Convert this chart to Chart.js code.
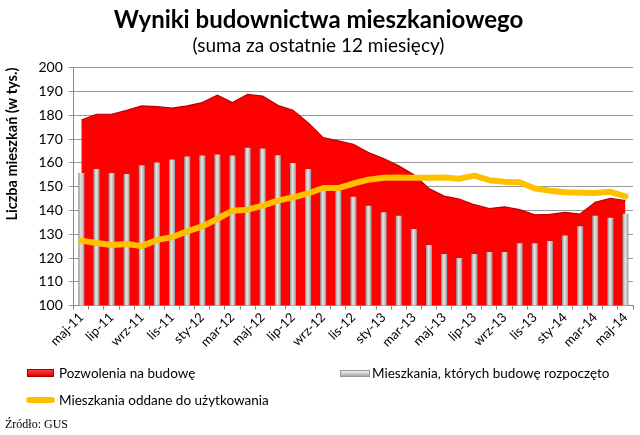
<!DOCTYPE html>
<html>
<head>
<meta charset="utf-8">
<script src="https://cdn.jsdelivr.net/npm/chart.js@4/dist/chart.umd.min.js"></script>
<style>
  body { margin: 0; background: #fff; }
  #wrap { position: relative; width: 640px; height: 435px; font-family: Lato, "Open Sans", sans-serif; }
  #chart { position: absolute; left: 0; top: 0; }
  .sw { position: absolute; }
  .lbl { position: absolute; font-size: 13.5px; color: #000; line-height: 16px; white-space: nowrap; }
  #src { position: absolute; left: 5px; top: 417px; font-family: "Liberation Serif", serif; font-size: 12px; }
</style>
</head>
<body>
<div id="wrap">
  <canvas id="chart" width="640" height="435"></canvas>
  <div class="sw" style="left:27px;top:369px;width:27px;height:8px;background:linear-gradient(#ff4040,#e00000);border:1px solid #a00000;box-sizing:border-box"></div>
  <div class="lbl" style="left:59px;top:365px">Pozwolenia na budowę</div>
  <div class="sw" style="left:340px;top:370px;width:30px;height:7px;background:linear-gradient(#f4f4f4,#a8a8a8);border:1px solid #999;box-sizing:border-box"></div>
  <div class="lbl" style="left:372px;top:365px">Mieszkania, których budowę rozpoczęto</div>
  <div class="sw" style="left:26px;top:397px;width:29px;height:6px;border-radius:3px;background:#ffc000"></div>
  <div class="lbl" style="left:59px;top:392px">Mieszkania oddane do użytkowania</div>
  <div id="src">Źródło: GUS</div>
</div>
<script>
// months maj-11 .. maj-14
var months = ["maj-11","cze-11","lip-11","sie-11","wrz-11","paź-11","lis-11","gru-11",
  "sty-12","lut-12","mar-12","kwi-12","maj-12","cze-12","lip-12","sie-12","wrz-12","paź-12",
  "lis-12","gru-12","sty-13","lut-13","mar-13","kwi-13","maj-13","cze-13","lip-13","sie-13",
  "wrz-13","paź-13","lis-13","gru-13","sty-14","lut-14","mar-14","kwi-14","maj-14"];

// pozwolenia na budowę (tys.)
var permits = [178, 180.4, 180.4, 182, 183.9, 183.6, 183, 183.9, 185.3, 188.4, 185.3, 188.8,
  188, 184.2, 182.1, 176.9, 170.6, 169.2, 167.8, 164.3, 161.8, 158.7, 155, 149.2, 146,
  144.8, 142.4, 140.8, 141.5, 140.3, 138.1, 138.3, 139.2, 138.5, 143.4, 145.1, 144.1];

// mieszkania rozpoczęte (tys.)
var started = [155.7, 157.4, 155.7, 155.3, 159, 160.1, 161.4, 162.7, 163.1, 163.5, 163.1, 166.3,
  166, 163.2, 159.9, 157.4, 150.3, 148.3, 145.7, 142, 139.2, 137.8, 132.2, 125.5, 121.7,
  120, 121.7, 122.5, 122.5, 126.2, 126.2, 127.1, 129.5, 133.3, 137.8, 136.9, 138.6];

// mieszkania oddane (tys.)
var completed = [127.3, 126.3, 125.5, 125.9, 125, 127.6, 128.7, 131.2, 133.3, 136.4, 139.9, 140.3,
  142, 144.1, 145.5, 147.1, 149.4, 149.4, 151.3, 152.9, 153.7, 153.8, 153.7, 153.7, 153.8,
  153.3, 154.6, 152.7, 152, 151.8, 149.2, 148.3, 147.6, 147.4, 147.3, 147.8, 145.9];

var yTicks = [100, 110, 120, 130, 140, 150, 160, 170, 180, 190, 200];

function barFill(c) {
  var chart = c.chart;
  if (!chart.chartArea || c.type !== "data") return "#b4b4b4";
  var x = chart.scales.x.getPixelForValue(c.dataIndex);
  var w = 3;
  var g = chart.ctx.createLinearGradient(x - w, 0, x + w, 0);
  g.addColorStop(0, "#8e8e8e");
  g.addColorStop(0.45, "#e8e8e8");
  g.addColorStop(1, "#999999");
  return g;
}

new Chart(document.getElementById("chart"), {
  type: "bar",
  data: {
    labels: months,
    datasets: [
      {
        type: "line",
        label: "Pozwolenia na budowę",
        data: permits,
        borderColor: "#b80000",
        borderWidth: 1.2,
        backgroundColor: "#ff0000",
        fill: "start",
        pointRadius: 0,
        tension: 0,
        order: 3
      },
      {
        type: "bar",
        label: "Mieszkania, których budowę rozpoczęto",
        data: started,
        backgroundColor: barFill,
        borderWidth: 0,
        categoryPercentage: 1,
        barPercentage: 0.4,
        order: 2
      },
      {
        type: "line",
        label: "Mieszkania oddane do użytkowania",
        data: completed,
        borderColor: "#ffc000",
        borderWidth: 6,
        borderJoinStyle: "round",
        borderCapStyle: "round",
        pointRadius: 0,
        fill: false,
        tension: 0,
        order: 1
      }
    ]
  },
  options: {
    responsive: false,
    animation: false,
    layout: { padding: { left: 4, right: 7, top: 0, bottom: 85 } },
    plugins: {
      legend: { display: false },
      tooltip: { enabled: false },
      title: {
        display: true,
        text: "Wyniki budownictwa mieszkaniowego",
        color: "#000",
        font: { family: "Lato", size: 24, weight: "bold" },
        padding: { top: 6, bottom: 0 }
      },
      subtitle: {
        display: true,
        text: "(suma za ostatnie 12 miesięcy)",
        color: "#000",
        font: { family: "Lato", size: 19 },
        padding: { top: 0, bottom: 10 }
      }
    },
    scales: {
      x: {
        offset: true,
        grid: { display: true, drawOnChartArea: false, offset: true, tickLength: 4, color: "#888" },
        border: { color: "#888" },
        ticks: {
          autoSkip: false,
          maxRotation: 45,
          minRotation: 45,
          padding: 0,
          color: "#000",
          font: { family: "Lato", size: 13 },
          callback: function(v, i) { return i % 2 === 0 ? months[i] : ""; }
        }
      },
      y: {
        min: 100,
        max: 200,
        afterBuildTicks: function(axis) {
          axis.ticks = yTicks.map(function(v) { return { value: v }; });
        },
        grid: { color: "#999", tickLength: 5 },
        border: { color: "#888" },
        ticks: { color: "#000", padding: 6, font: { family: "Lato", size: 14 } },
        title: {
          display: true,
          align: "end",
          text: "Liczba mieszkań (w tys.)",
          color: "#000",
          font: { family: "Lato", size: 14.5, weight: "bold" },
          padding: { top: 0, bottom: 11 }
        }
      }
    }
  }
});
</script>
</body>
</html>
